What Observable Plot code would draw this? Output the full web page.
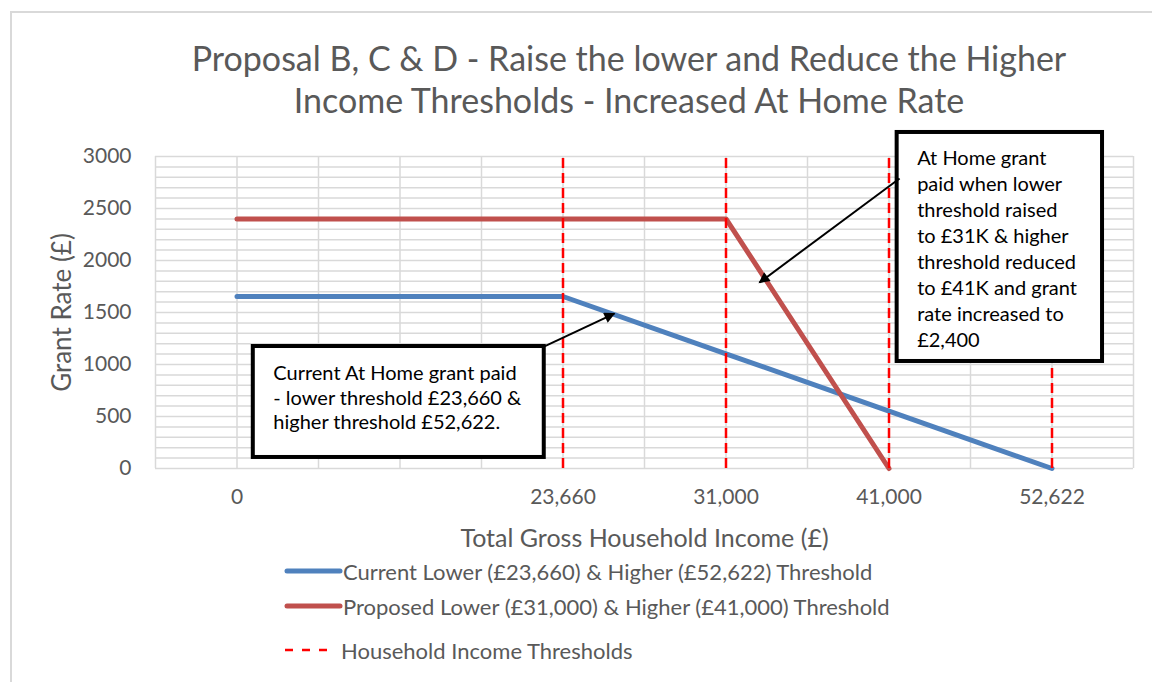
<!DOCTYPE html>
<html><head><meta charset="utf-8">
<script src="https://cdn.jsdelivr.net/npm/d3@7"></script>
<script src="https://cdn.jsdelivr.net/npm/@observablehq/plot@0.6"></script>
<style>
html,body{margin:0;padding:0;background:#fff;overflow:hidden}
#chart{position:relative;width:1152px;height:682px;overflow:hidden;font-family:Lato,sans-serif;color:#595959;background:#fff}
#frame{position:absolute;z-index:10;left:10px;top:11px;width:1300px;height:800px;border-left:2px solid #D9D9D9;border-top:2px solid #D9D9D9;box-sizing:border-box;pointer-events:none}
#title{position:relative;height:130px;box-sizing:border-box;padding-top:37px;font-size:34px;line-height:42px;text-align:center;left:53px;width:1152px}
#plot{position:relative;height:425px}
#plot svg{display:block}
#legend{position:relative;height:127px}
.item{position:absolute;left:284px;display:flex;align-items:center;font-size:22px;white-space:nowrap;height:30px}
.item svg{display:block;margin-right:0px}
</style></head>
<body>
<div id="chart">
  <div id="frame"></div>
  <div id="title">Proposal B, C &amp; D - Raise the lower and Reduce the Higher<br>Income Thresholds - Increased At Home Rate</div>
  <div id="plot"></div>
  <div id="legend"></div>
</div>
<script>
// ---- data ----
const categories   = ["0", "", "", "", "23,660", "", "31,000", "", "41,000", "", "52,622"];
const currentRate  = [1654, null, null, null, 1654, null, 1103, null, 551, null, 0];
const proposedRate = [2400, null, null, null, 2400, null, 2400, null, 0, null, null];
const thresholdIncomes = ["23,660", "31,000", "41,000", "52,622"];
const yTicks = [0, 500, 1000, 1500, 2000, 2500, 3000];
const seriesNames = [
  "Current Lower (£23,660) & Higher (£52,622) Threshold",
  "Proposed Lower (£31,000) & Higher (£41,000) Threshold",
  "Household Income Thresholds"
];
const noteTexts = [
  "Current At Home grant paid\n- lower threshold £23,660 &\nhigher threshold £52,622.",
  "At Home grant\npaid when lower\nthreshold raised\nto £31K & higher\nthreshold reduced\nto £41K and grant\nrate increased to\n£2,400"
];

// ---- annotation placement (data units) ----
const notePlacement = [
  {x1: 0.2, x2: 3.77, y1: 106, y2: 1173, ax1: 3.74, ay1: 1163, ax2: 4.63, ay2: 1490},
  {x1: 8.1, x2: 10.62, y1: 1029, y2: 3231, ax1: 8.13, ay1: 2788, ax2: 6.41, ay2: 1788}
];
const colors = ["#4F81BD", "#C0504D", "#FF0000"];

const idx = d3.range(categories.length);
const cur = idx.filter(i => currentRate[i] != null).map(i => ({i, v: currentRate[i]}));
const prop = idx.filter(i => proposedRate[i] != null).map(i => ({i, v: proposedRate[i]}));
const thr = thresholdIncomes.map(t => ({i: categories.indexOf(t)}));
const notes = noteTexts.map((text, k) => ({text, ...notePlacement[k]}));

const plot = Plot.plot({
  width: 1152, height: 425,
  marginTop: 26, marginBottom: 87, marginLeft: 155, marginRight: 19,
  style: {fontFamily: "Lato, sans-serif", color: "#595959", background: "white", overflow: "visible"},
  x: {type: "linear", domain: [-1, categories.length]},
  y: {domain: [0, 3000]},
  marks: [
    Plot.gridX(d3.range(-1, categories.length + 1), {stroke: "#D9D9D9", strokeOpacity: 1, strokeWidth: 1.5}),
    Plot.gridY(d3.range(0, 3001, 100), {stroke: "#D9D9D9", strokeOpacity: 1, strokeWidth: 1.5}),
    Plot.axisX(idx.filter(i => categories[i] !== ""), {tickFormat: i => categories[i], tickSize: 0, tickPadding: 21, fontSize: 21, label: null}),
    Plot.axisY(yTicks, {tickSize: 0, tickPadding: 24, fontSize: 21, label: null, tickFormat: d => String(d)}),
    Plot.text(["Grant Rate (£)"], {frameAnchor: "left", textAnchor: "middle", lineAnchor: "middle", dx: -93, rotate: -90, fontSize: 26, fill: "#595959"}),
    Plot.text(["Total Gross Household Income (£)"], {frameAnchor: "bottom", textAnchor: "middle", lineAnchor: "middle", dy: 70, fontSize: 25, fill: "#595959"}),
    Plot.line(cur, {x: "i", y: "v", stroke: colors[0], strokeWidth: 5, strokeLinecap: "round", strokeLinejoin: "round"}),
    Plot.line(prop, {x: "i", y: "v", stroke: colors[1], strokeWidth: 5, strokeLinecap: "round", strokeLinejoin: "round"}),
    Plot.ruleX(thr, {x: "i", y1: 0, y2: 3000, stroke: colors[2], strokeWidth: 2.5, strokeDasharray: "10,5"}),
    Plot.rect(notes, {x1: "x1", x2: "x2", y1: "y1", y2: "y2", fill: "white", stroke: "black", strokeWidth: 4}),
    Plot.text(notes.slice(0, 1), {x: "x1", y: d => (d.y1 + d.y2) / 2, text: "text", textAnchor: "start", lineAnchor: "middle", dx: 20, dy: -5, fontSize: 20, fill: "black", lineHeight: 1.23}),
    Plot.text(notes.slice(1), {x: "x1", y: d => (d.y1 + d.y2) / 2, text: "text", textAnchor: "start", lineAnchor: "middle", dx: 20, dy: 1, fontSize: 20, fill: "black", lineHeight: 1.3}),
    Plot.link(notes, {x1: "ax1", y1: "ay1", x2: "ax2", y2: "ay2", stroke: "black", strokeWidth: 2, className: "note-arrow"})
  ]
});
document.getElementById("plot").appendChild(plot);

// filled arrowheads for the annotation arrows
const svgNS = "http://www.w3.org/2000/svg";
const defs = document.createElementNS(svgNS, "defs");
const marker = document.createElementNS(svgNS, "marker");
marker.setAttribute("id", "ahead");
marker.setAttribute("viewBox", "0 0 10 10");
marker.setAttribute("refX", "9");
marker.setAttribute("refY", "5");
marker.setAttribute("markerWidth", "6.5");
marker.setAttribute("markerHeight", "5.5");
marker.setAttribute("orient", "auto");
const mp = document.createElementNS(svgNS, "path");
mp.setAttribute("d", "M0,0L10,5L0,10z");
mp.setAttribute("fill", "black");
marker.appendChild(mp);
defs.appendChild(marker);
plot.insertBefore(defs, plot.firstChild);
plot.querySelectorAll(".note-arrow path").forEach(p => p.setAttribute("marker-end", "url(#ahead)"));

// legend
const legend = document.getElementById("legend");
const legendTops = [1, 36, 80];
seriesNames.forEach((name, k) => {
  const item = document.createElement("div");
  item.className = "item";
  item.style.top = legendTops[k] + "px";
  const sw = k < 2
    ? `<svg width="59" height="10"><line x1="3" y1="5" x2="56" y2="5" stroke="${colors[k]}" stroke-width="5" stroke-linecap="round"/></svg>`
    : `<svg width="57" height="10"><line x1="1" y1="5" x2="44" y2="5" stroke="${colors[k]}" stroke-width="2.5" stroke-dasharray="8,9"/></svg>`;
  item.innerHTML = sw + `<span>${name}</span>`;
  legend.appendChild(item);
});
</script>
</body></html>
